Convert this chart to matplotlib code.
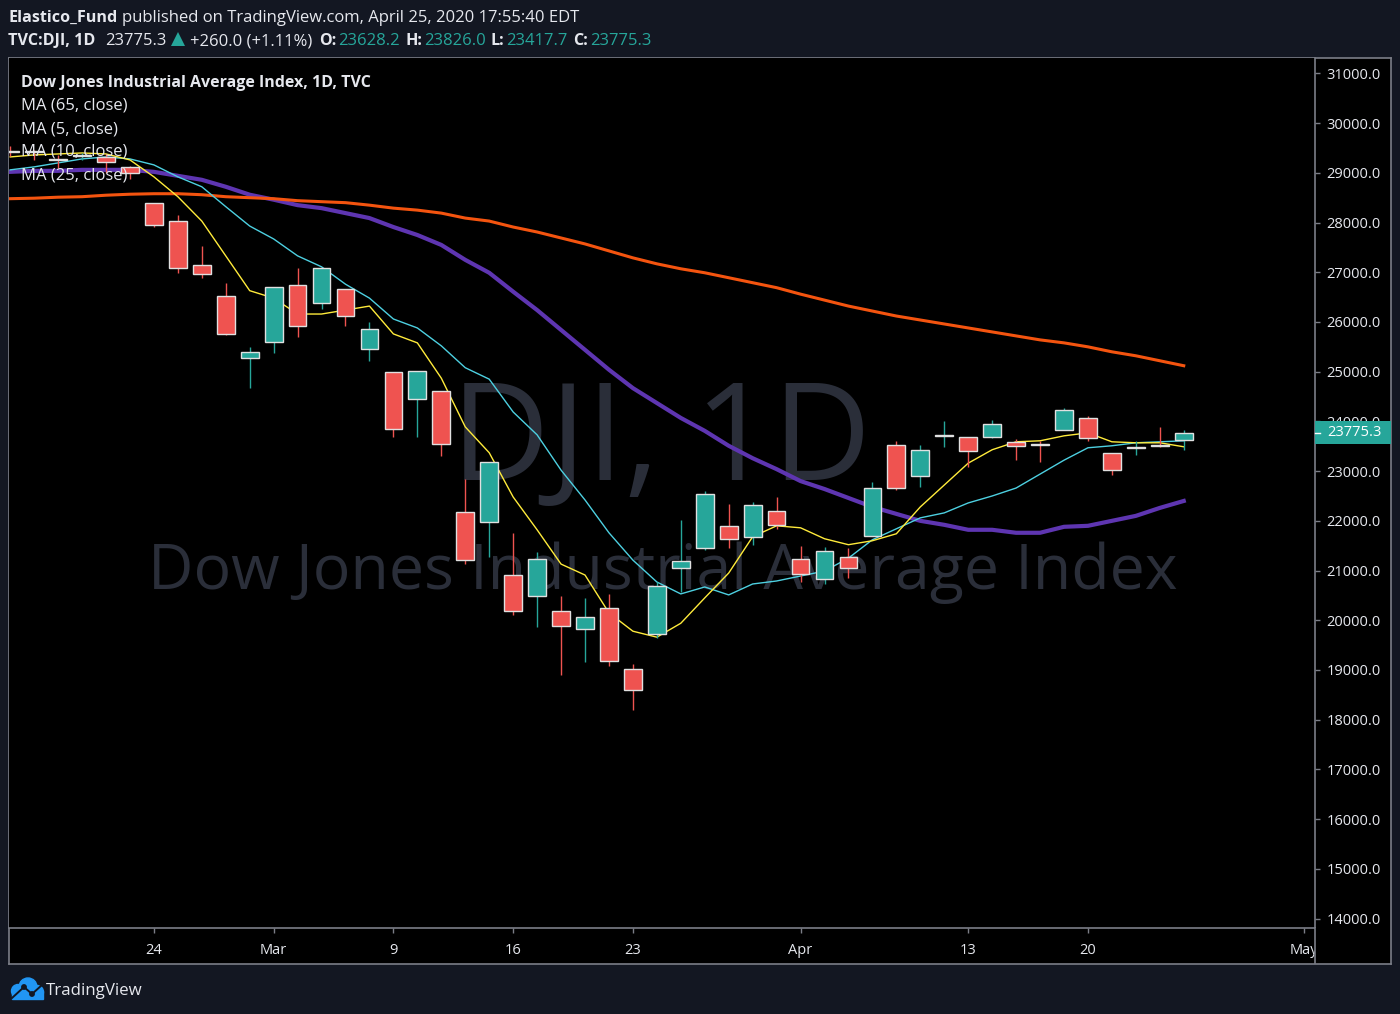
import numpy as np
import matplotlib
matplotlib.use('Agg')
import matplotlib.pyplot as plt
from matplotlib.patches import Rectangle, Circle, Polygon

plt.rcParams['font.family'] = ['Open Sans', 'DejaVu Sans']

# bar index 0 is Feb 24
bar_idx = list(range(-6, 44))

opens = [29430, 29430, 29270, 29330, 29320, 29120, 28395, 28030, 27150, 26520,
         25280, 25600, 26740, 26380, 26660, 25460, 24990, 24450, 24610, 22180,
         21980, 20910, 20490, 20190, 19830, 20250, 19020, 19720, 21050, 21450,
         21900, 21680, 22200, 21230, 20830, 21270, 21700, 23530, 22900, 23700,
         23690, 23690, 23590, 23550, 23830, 24070, 23370, 23460, 23530, 23628.2]
highs = [29540, 29460, 29360, 29400, 29380, 29140, 28395, 28150, 27530, 26790,
         25500, 26700, 27090, 27090, 26660, 26000, 24990, 25020, 24610, 22840,
         23190, 21760, 21370, 20490, 20450, 20530, 19120, 20770, 22020, 22600,
         22340, 22380, 22480, 21500, 21470, 21450, 22780, 23610, 23530, 24010,
         23690, 24030, 23650, 23610, 24270, 24110, 23370, 23610, 23890, 23826.0]
lows = [29340, 29260, 29100, 29260, 29000, 28880, 27910, 26990, 26890, 25740,
        24670, 25380, 25700, 26260, 25920, 25220, 23690, 23690, 23300, 21130,
        21270, 20110, 19860, 18900, 19160, 19080, 18200, 19640, 20570, 21410,
        21450, 21520, 21840, 20770, 20730, 20850, 21700, 22620, 22680, 23490,
        23080, 23670, 23230, 23180, 23830, 23610, 22920, 23330, 23490, 23417.7]
closes = [29410, 29410, 29250, 29350, 29220, 29000, 27950, 27090, 26970, 25760,
          25400, 26700, 25920, 27090, 26120, 25860, 23850, 25020, 23550, 21210,
          23190, 20190, 21230, 19890, 20070, 19180, 18600, 20690, 21190, 22540,
          21640, 22320, 21920, 20930, 21390, 21050, 22660, 22660, 23430, 23720,
          23410, 23950, 23510, 23530, 24230, 23670, 23020, 23480, 23510, 23775.3]

ma5 = [29320, 29360, 29380, 29400, 29380, 29260, 28920, 28520, 28030, 27330,
       26630, 26480, 26160, 26160, 26240, 26320, 25760, 25580, 24870, 23890,
       23370, 22480, 21820, 21130, 20910, 20150, 19780, 19660, 19940, 20450,
       20950, 21680, 21900, 21860, 21640, 21520, 21600, 21740, 22280, 22720,
       23160, 23430, 23590, 23610, 23710, 23770, 23590, 23570, 23570, 23490]
ma10 = [29060, 29120, 29200, 29280, 29320, 29280, 29160, 28920, 28720, 28320,
        27930, 27670, 27330, 27110, 26760, 26480, 26060, 25880, 25520, 25080,
        24850, 24190, 23730, 23020, 22420, 21760, 21210, 20770, 20530, 20670,
        20510, 20730, 20790, 20890, 20990, 21250, 21620, 21840, 22060, 22160,
        22360, 22500, 22660, 22940, 23220, 23470, 23510, 23570, 23590, 23610]
ma25 = [29020, 29040, 29040, 29060, 29060, 29060, 29020, 28940, 28860, 28720,
        28560, 28460, 28350, 28290, 28190, 28090, 27910, 27750, 27550, 27250,
        26990, 26610, 26240, 25840, 25440, 25040, 24670, 24370, 24070, 23810,
        23510, 23260, 23040, 22800, 22640, 22460, 22280, 22140, 22000, 21920,
        21820, 21820, 21760, 21760, 21880, 21900, 22000, 22100, 22260, 22400]
ma65 = [28480, 28490, 28510, 28520, 28550, 28570, 28580, 28580, 28560, 28520,
        28500, 28480, 28440, 28420, 28400, 28350, 28290, 28250, 28190, 28090,
        28030, 27910, 27810, 27690, 27570, 27430, 27290, 27170, 27070, 26990,
        26890, 26790, 26690, 26560, 26440, 26320, 26220, 26120, 26040, 25960,
        25880, 25800, 25720, 25640, 25580, 25500, 25400, 25320, 25220, 25120]

price_ticks = list(range(14000, 32000, 1000))
time_ticks = [0, 5, 10, 15, 20, 27, 34, 39, 48]
time_labels = ['24', 'Mar', '9', '16', '23', 'Apr', '13', '20', 'May']
last_close = 23775.3

legend_rows = ['MA (65, close)', 'MA (5, close)', 'MA (10, close)', 'MA (25, close)']

bg = '#131722'
up = '#26a69a'
down = '#ef5350'
border = '#e0e0e0'
frame = '#7b7e87'
txt = '#e6e8ee'
water = '#2a2e39'

W, H = 1400, 1014


def px_rect(x0, y0, x1, y1):
    return [x0 / W, 1 - y1 / H, (x1 - x0) / W, (y1 - y0) / H]


def top_text(x, y, s, **kw):
    kw.setdefault('color', txt)
    kw.setdefault('fontsize', 12)
    fig.text(x / W, 1 - y / H, s, va='center', ha='left', **kw)


fig = plt.figure(figsize=(14, 10.14), dpi=100, facecolor=bg)

# outer frame, holds the time axis strip
outer = fig.add_axes(px_rect(9, 58, 1391, 964), facecolor='black')
outer.set_xticks([])
outer.set_yticks([])
for s in outer.spines.values():
    s.set_color(frame)
    s.set_linewidth(1.2)

ax = fig.add_axes(px_rect(9, 58, 1315, 928), facecolor='black')
ax.set_xlim(-6.05, 48.48)
ax.set_ylim(13810, 31310)
for s in ax.spines.values():
    s.set_color(frame)
    s.set_linewidth(1.2)
ax.spines['top'].set_visible(False)
ax.spines['left'].set_visible(False)

ax.yaxis.tick_right()
ax.set_yticks(price_ticks)
ax.set_yticklabels([f'{p:.1f}' for p in price_ticks])
ax.set_xticks(time_ticks)
ax.set_xticklabels(time_labels)
ax.tick_params(axis='y', colors=frame, labelcolor=txt, labelsize=10.5, length=3.6, width=1, pad=4.5)
ax.tick_params(axis='x', colors=frame, labelcolor=txt, labelsize=10.5, length=3.6, width=1, pad=7)

# watermarks
ax.text(0.499, 0.556, 'DJI, 1D', transform=ax.transAxes, color=water, fontsize=98,
        ha='center', va='center', zorder=0.5)
ax.text(0.5004, 0.408, 'Dow Jones Industrial Average Index', transform=ax.transAxes, color=water,
        fontsize=45.1, ha='center', va='center', zorder=0.5)

# moving averages sit under the candles
ax.plot(bar_idx, ma25, color='#5e35b1', lw=3, zorder=2, solid_joinstyle='round')
ax.plot(bar_idx, ma65, color='#f4540f', lw=2.2, zorder=2.1, solid_joinstyle='round')
ax.plot(bar_idx, ma10, color='#4dd0e1', lw=1, zorder=2.2)
ax.plot(bar_idx, ma5, color='#ffeb3b', lw=1, zorder=2.3)

colors = [up if c >= o else down for o, c in zip(opens, closes)]
ax.vlines(bar_idx, lows, highs, colors=colors, lw=1, zorder=3)
bottoms = [min(o, c) for o, c in zip(opens, closes)]
heights = [abs(c - o) for o, c in zip(opens, closes)]
ax.bar(bar_idx, heights, bottom=bottoms, width=0.74, color=colors, edgecolor=border, linewidth=1, zorder=3.1)

# pane legend
ax.text((21 - 9) / 1306, 1 - (83 - 58) / 870, 'Dow Jones Industrial Average Index, 1D, TVC',
        transform=ax.transAxes, color=txt, fontsize=11.5, fontweight='bold', va='center', zorder=6)
for n, row in enumerate(legend_rows):
    ax.text((21 - 9) / 1306, 1 - (106 + 23 * n - 58) / 870, row, transform=ax.transAxes,
            color=txt, fontsize=12, va='center', zorder=6)

# last price tag on the scale
trans = ax.get_yaxis_transform()
tag_h = 23 / 870 * 17500
ax.add_patch(Rectangle((1.0, last_close - tag_h / 2), 76 / 1306, tag_h, transform=trans,
                       facecolor=up, edgecolor='none', clip_on=False, zorder=7))
ax.plot([1.0, 1 + 5 / 1306], [last_close, last_close], transform=trans, color='white', lw=1,
        clip_on=False, zorder=8)
ax.text(1 + 12 / 1306, last_close, f'{last_close:.1f}', transform=trans, color='white',
        fontsize=10.5, va='center', ha='left', clip_on=False, zorder=8)

# corner under the price scale, covers the end of the May label
corner = fig.add_axes(px_rect(1315, 928, 1390, 963), facecolor='black', zorder=5)
corner.set_xticks([])
corner.set_yticks([])
for name, s in corner.spines.items():
    s.set_visible(name == 'left')
    s.set_color(frame)
    s.set_linewidth(1.2)

# header
top_text(8, 18, 'Elastico_Fund', fontweight='bold', fontsize=11.6)
top_text(122, 18, 'published on TradingView.com, April 25, 2020 17:55:40 EDT')
top_text(8, 41, 'TVC:DJI, 1D', fontweight='bold', fontsize=11.6)
top_text(105, 41, '23775.3')
fig.add_artist(Polygon([[171 / W, 1 - 46 / H], [185 / W, 1 - 46 / H], [178 / W, 1 - 32 / H]],
                       closed=True, facecolor=up, edgecolor='none', transform=fig.transFigure))
top_text(190, 41, '+260.0 (+1.11%)')
for x_lab, lab, x_val, val in [(319, 'O:', 338, '23628.2'), (405, 'H:', 424, '23826.0'),
                               (491, 'L:', 506, '23417.7'), (573, 'C:', 590, '23775.3')]:
    top_text(x_lab, 41, lab, fontweight='bold', fontsize=11.6)
    top_text(x_val, 41, val, color=up)

# logo
logo = fig.add_axes(px_rect(8, 976, 46, 1002), facecolor='none')
logo.set_xlim(0, 38)
logo.set_ylim(26, 0)
logo.axis('off')
blue = '#2196f3'
logo.add_patch(Circle((20, 11), 9, color=blue))
logo.add_patch(Circle((10, 15), 6.5, color=blue))
logo.add_patch(Circle((29, 16), 6.5, color=blue))
logo.add_patch(Rectangle((4, 15), 31, 7.5, color=blue))
logo.plot([4, 16, 24, 34], [22, 11, 18, 9], color=bg, lw=1.4)
logo.add_patch(Circle((16, 11), 2.2, color=bg))
logo.add_patch(Circle((24, 18), 2.2, color=bg))
top_text(46, 991, 'TradingView', fontsize=12.2)

fig.savefig('out.png', dpi=100, facecolor=bg)
